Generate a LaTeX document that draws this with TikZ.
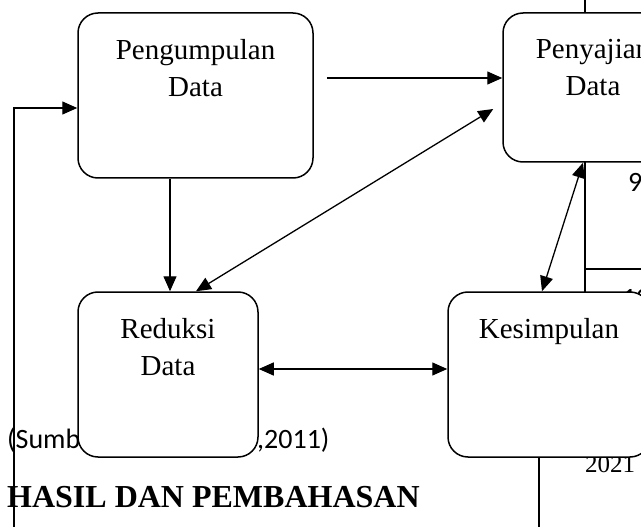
\documentclass[tikz,border=0pt]{standalone}
\usepackage{fontspec}
\setmainfont{Liberation Serif}
\newfontfamily\srcfont{Carlito}
\usetikzlibrary{arrows.meta}
\usetikzlibrary{positioning}

\begin{document}
\begin{tikzpicture}[x=1pt, y=-1pt,
	box/.style={draw, line width=1.5pt, fill=white, rounded corners=20pt, inner sep=0pt},
	lbl/.style={align=center, inner sep=0pt, font=\fontsize{29}{36.5}\selectfont},
	arr/.style={line width=1.3pt, -{Triangle[length=15pt, width=13pt]}},
	darr/.style={line width=1.3pt, {Triangle[length=15pt, width=13pt]}-{Triangle[length=15pt, width=13pt]}},
	src/.style={inner sep=0pt, anchor=base west, font=\srcfont\fontsize{28}{32}\selectfont}]
	\useasboundingbox (0, 0) rectangle (641, 527);
	\clip (0, 0) rectangle (641, 527);

	%page text behind the diagram
	\node[src] (srcA) at (7, 448) {(Sumber: Sugiyono};
	\node[src] (srcB) at (257, 448) {,2011)};
	\node[src] (rowA) at (628, 192) {9};
	\node[src] (rowB) at (622, 307) {10};
	\node[inner sep=0pt, anchor=base west, font=\fontsize{25}{30}\selectfont] (year) at (585, 472) {2021};
	\node[inner sep=0pt, anchor=base west, font=\bfseries\fontsize{32}{38}\selectfont] (head) at (7, 507) {HASIL DAN PEMBAHASAN};
	\draw[line width=1.3pt] (585, 0) -- (585, 300);
	\draw[line width=1.3pt] (585, 269) -- (641, 269);

	\node[box, minimum width=235pt, minimum height=165pt] (peng) at (195.5, 95.5) {};
	\node[box, minimum width=180pt, minimum height=149pt] (peny) at (593, 87.5) {};
	\node[box, minimum width=180pt, minimum height=165pt] (redu) at (168, 374.5) {};
	\node[box, minimum width=202pt, minimum height=165pt] (kes) at (549, 374.5) {};

	\node[lbl, below=27pt of peng.north] (pengT) {Pengumpulan\\Data};
	\node[lbl, below=27pt of peny.north] (penyT) {Penyajian\\Data};
	\node[lbl, below=27pt of redu.north] (reduT) {Reduksi\\Data};
	\node[lbl, below=27pt of kes.north] (kesT) {Kesimpulan};

	\coordinate (pengR) at ([xshift=13pt, yshift=17.5pt]peng.east);
	\coordinate (pengB) at ([xshift=-25.5pt]peng.south);
	\draw[arr] (pengR) -- (pengR -| peny.west);
	\draw[arr] (pengB) -- (pengB |- redu.north);
	\draw[darr] ([xshift=28pt]redu.north) -- ([xshift=-9pt, yshift=-21.5pt]peny.west);
	\draw[darr] ([yshift=5.5pt]redu.east) -- ([yshift=5.5pt]kes.west);
	\draw[darr] ([xshift=-7pt]kes.north) -- ([xshift=-10pt]peny.south);
	\draw[arr] ([xshift=-10pt]kes.south) -- ++(0, 80) -| (14, 108) -- ([yshift=-12.5pt]peng.west);
\end{tikzpicture}
\end{document}
